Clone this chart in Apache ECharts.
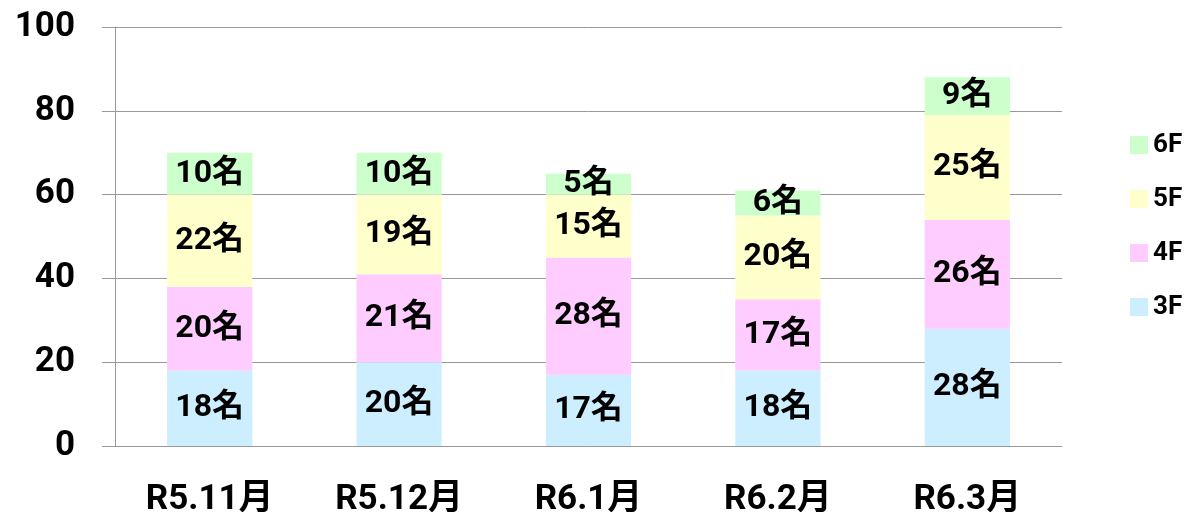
<!DOCTYPE html>
<html>
<head>
<meta charset="utf-8">
<script src="https://cdn.jsdelivr.net/npm/echarts@6/dist/echarts.min.js"></script>
<style>
  html, body { margin: 0; padding: 0; background: #fff; }
  #main { width: 1186px; height: 512px; }
</style>
</head>
<body>
<div id="main"></div>
<script>
// 月別・フロア別の人数
const months = ['R5.11月', 'R5.12月', 'R6.1月', 'R6.2月', 'R6.3月'];
const floor3 = [18, 20, 17, 18, 28];
const floor4 = [20, 21, 28, 17, 26];
const floor5 = [22, 19, 15, 20, 25];
const floor6 = [10, 10, 5, 6, 9];
const yTicks = [0, 20, 40, 60, 80, 100];

const fontFam = 'Roboto, "Noto Sans CJK JP", sans-serif';

const mkSeries = (name, data, color) => ({
    name: name,
    type: 'bar',
    stack: 'total',
    data: data,
    barWidth: '45%',
    itemStyle: { color: color },
    label: {
        show: true,
        formatter: p => p.value + '名',
        color: '#000',
        fontSize: 32,
        fontWeight: 'bold',
        fontFamily: fontFam
    }
});

const chart = echarts.init(document.getElementById('main'));
chart.setOption({
    animation: false,
    // 枠外のラベルでグリッドが縮まないようにする
    grid: { left: 115, right: 124, top: 27, bottom: 66, outerBoundsMode: 'none' },
    legend: {
        data: ['6F', '5F', '4F', '3F'],
        orient: 'vertical',
        left: 1125,
        top: 127,
        itemWidth: 18,
        itemHeight: 18,
        itemGap: 28,
        icon: 'rect',
        textStyle: { fontSize: 26, lineHeight: 18, fontWeight: 'bold', color: '#000', fontFamily: fontFam }
    },
    xAxis: {
        type: 'category',
        data: months,
        axisLine: { lineStyle: { color: '#999' } },
        axisTick: { length: 12, lineStyle: { color: '#999' } },
        axisLabel: { fontSize: 35, fontWeight: 'bold', color: '#000', margin: 37, fontFamily: fontFam }
    },
    yAxis: {
        type: 'value',
        min: yTicks[0],
        max: yTicks[yTicks.length - 1],
        interval: 20,
        axisLine: { show: true, lineStyle: { color: '#999' } },
        axisTick: { show: true, length: 13, lineStyle: { color: '#999' } },
        splitLine: { lineStyle: { color: '#999' } },
        axisLabel: { fontSize: 35, fontWeight: 'bold', color: '#000', margin: 40, fontFamily: fontFam }
    },
    series: [
        mkSeries('3F', floor3, '#cceeff'),
        mkSeries('4F', floor4, '#ffccff'),
        mkSeries('5F', floor5, '#ffffcc'),
        mkSeries('6F', floor6, '#ccffcc')
    ]
});
</script>
</body>
</html>
